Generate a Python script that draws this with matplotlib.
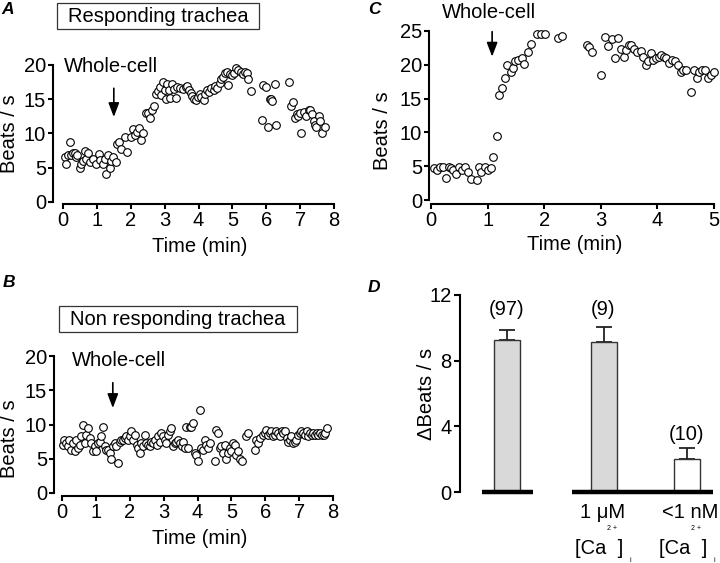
import numpy as np
import matplotlib.pyplot as plt
from matplotlib.patches import Rectangle

plt.rcParams['font.family'] = ['Liberation Sans', 'DejaVu Sans']

# panel A - responding trachea (time in min, beats/s)
a_t = [0.05, 0.10, 0.15, 0.20, 0.25, 0.30, 0.34, 0.38, 0.42, 0.49, 0.54, 0.59, 0.64, 0.69,
       0.74, 0.79, 0.90, 0.98, 1.05, 1.10, 1.18, 1.23, 1.28, 1.33, 1.38, 1.43, 1.48, 1.55,
       1.60, 1.66, 1.72, 1.82, 1.90, 2.02, 2.08, 2.12, 2.18, 2.24, 2.30, 2.36, 2.45, 2.52,
       2.58, 2.62, 2.68, 2.75, 2.80, 2.86, 2.90, 2.95, 3.00, 3.04, 3.08, 3.12, 3.17, 3.22,
       3.28, 3.34, 3.38, 3.45, 3.55, 3.62, 3.66, 3.72, 3.77, 3.82, 3.88, 3.93, 3.98, 4.03,
       4.08, 4.15, 4.20, 4.26, 4.32, 4.38, 4.45, 4.50, 4.56, 4.62, 4.66, 4.72, 4.78, 4.84,
       4.88, 4.93, 4.98, 5.05, 5.12, 5.18, 5.24, 5.30, 5.36, 5.42, 5.46, 5.56, 5.86, 5.90,
       6.00, 6.05, 6.10, 6.14, 6.18, 6.25, 6.30, 6.68, 6.74, 6.80, 6.85, 6.90, 6.95, 7.00,
       7.04, 7.10, 7.18, 7.26, 7.30, 7.36, 7.40, 7.44, 7.48, 7.55, 7.60, 7.65, 7.72]
a_v = [6.6, 5.5, 6.8, 8.8, 6.9, 7.1, 7.2, 6.6, 6.8, 4.9, 5.5, 6.0, 7.5, 6.3,
       7.2, 5.9, 6.3, 5.5, 7.0, 6.1, 5.5, 6.3, 4.1, 6.8, 4.9, 6.0, 6.6, 5.9,
       8.5, 8.8, 7.8, 9.5, 7.3, 9.5, 10.7, 9.8, 10.2, 10.8, 9.0, 10.0, 13.0, 13.0,
       12.2, 13.4, 14.0, 15.7, 16.2, 16.8, 15.6, 17.5, 16.3, 15.1, 17.2, 16.4, 15.2, 17.2,
       16.5, 15.2, 16.8, 16.6, 16.5, 16.8, 17.0, 16.3, 15.9, 15.5, 15.1, 14.9, 15.3, 15.7,
       15.4, 14.9, 15.8, 16.3, 16.0, 16.6, 16.3, 17.0, 16.6, 17.4, 17.9, 18.3, 18.8, 19.0,
       17.1, 18.7, 18.5, 18.8, 19.5, 19.3, 19.0, 18.7, 19.0, 18.8, 18.0, 16.2, 12.0, 17.1,
       16.8, 11.0, 15.0, 15.0, 14.8, 17.2, 11.2, 17.5, 14.0, 14.6, 12.2, 12.8, 12.6, 13.0,
       10.0, 13.2, 12.5, 13.4, 13.5, 12.8, 11.8, 11.2, 11.0, 12.6, 11.8, 10.1, 11.0]

# panel B - non responding trachea
b_t = [0.03, 0.07, 0.12, 0.17, 0.22, 0.27, 0.32, 0.37, 0.42, 0.47, 0.52, 0.57, 0.62, 0.67,
       0.72, 0.77, 0.82, 0.87, 0.91, 0.96, 1.01, 1.06, 1.11, 1.16, 1.21, 1.26, 1.31, 1.36,
       1.41, 1.46, 1.50, 1.55, 1.60, 1.65, 1.70, 1.75, 1.80, 1.85, 1.90, 1.95, 2.00, 2.05,
       2.10, 2.15, 2.20, 2.25, 2.29, 2.34, 2.39, 2.44, 2.49, 2.54, 2.59, 2.64, 2.69, 2.74,
       2.79, 2.84, 2.88, 2.93, 2.98, 3.03, 3.08, 3.13, 3.18, 3.23, 3.28, 3.33, 3.38, 3.43,
       3.48, 3.53, 3.58, 3.63, 3.67, 3.72, 3.77, 3.82, 3.87, 3.92, 3.97, 4.02, 4.06, 4.11,
       4.16, 4.21, 4.26, 4.31, 4.36, 4.51, 4.56, 4.61, 4.66, 4.70, 4.75, 4.80, 4.85, 4.90,
       4.95, 5.00, 5.05, 5.10, 5.15, 5.20, 5.25, 5.30, 5.44, 5.49, 5.69, 5.74, 5.79, 5.84,
       5.93, 5.98, 6.03, 6.08, 6.13, 6.18, 6.23, 6.28, 6.33, 6.38, 6.43, 6.48, 6.53, 6.58,
       6.63, 6.68, 6.72, 6.77, 6.82, 6.87, 6.92, 6.97, 7.02, 7.07, 7.12, 7.17, 7.22, 7.27,
       7.32, 7.37, 7.42, 7.47, 7.52, 7.57, 7.62, 7.67, 7.72, 7.77, 7.83]
b_v = [7.0, 7.8, 7.3, 6.8, 7.8, 6.3, 7.3, 6.1, 7.8, 6.6, 7.0, 8.3, 10.0, 7.3,
       8.5, 9.5, 8.0, 7.3, 6.1, 6.8, 6.1, 7.3, 7.5, 8.3, 9.7, 6.8, 6.3, 6.3,
       5.8, 4.9, 6.8, 7.3, 6.8, 4.4, 7.5, 7.8, 7.8, 8.0, 8.3, 7.8, 8.3, 9.0,
       7.8, 8.5, 7.0, 6.6, 5.8, 7.3, 6.8, 8.5, 7.3, 7.0, 6.8, 7.5, 7.3, 7.8,
       7.0, 8.3, 7.5, 8.7, 8.3, 7.8, 7.3, 8.5, 9.0, 9.5, 6.8, 7.3, 7.5, 7.8,
       7.3, 6.8, 7.5, 6.6, 9.7, 6.6, 9.7, 9.7, 10.2, 5.8, 5.6, 4.6, 12.1, 6.6,
       6.3, 7.8, 7.0, 6.6, 7.3, 4.6, 9.2, 8.7, 6.6, 6.8, 5.8, 7.0, 4.9, 5.8,
       6.6, 6.1, 7.3, 7.0, 5.6, 6.1, 4.9, 4.6, 8.3, 8.7, 6.3, 7.8, 7.3, 8.0,
       8.5, 8.7, 9.2, 8.5, 8.7, 9.0, 8.3, 8.5, 9.0, 8.7, 8.3, 9.0, 8.7, 9.0,
       8.0, 7.5, 7.8, 8.3, 7.3, 7.5, 7.8, 8.5, 8.7, 9.0, 8.7, 8.5, 9.0, 8.3,
       8.7, 8.5, 8.7, 8.5, 8.7, 8.5, 8.7, 8.5, 8.5, 8.7, 9.5]

# panel C - single cell
c_t = [0.05, 0.11, 0.16, 0.22, 0.26, 0.31, 0.35, 0.39, 0.45, 0.49, 0.54, 0.60, 0.66, 0.71,
       0.81, 0.85, 0.89, 0.95, 1.01, 1.06, 1.10, 1.16, 1.21, 1.26, 1.31, 1.35, 1.41, 1.45,
       1.49, 1.54, 1.60, 1.65, 1.71, 1.76, 1.88, 1.95, 2.01, 2.24, 2.31, 2.75, 2.79, 2.85,
       3.01, 3.07, 3.13, 3.20, 3.25, 3.31, 3.35, 3.41, 3.45, 3.50, 3.54, 3.59, 3.64, 3.71,
       3.75, 3.79, 3.84, 3.88, 3.92, 3.97, 4.02, 4.07, 4.11, 4.16, 4.21, 4.26, 4.31, 4.36,
       4.41, 4.45, 4.50, 4.60, 4.64, 4.70, 4.74, 4.78, 4.84, 4.89, 4.94, 5.00]
c_v = [4.7, 4.4, 4.9, 4.9, 3.2, 4.9, 4.7, 4.4, 3.9, 4.9, 4.4, 4.9, 4.2, 3.1,
       3.0, 4.9, 4.2, 4.9, 4.4, 4.8, 6.4, 9.4, 15.5, 16.5, 18.0, 20.0, 19.0, 19.5,
       20.5, 20.7, 21.0, 20.1, 21.9, 23.1, 24.5, 24.5, 24.5, 24.0, 24.2, 22.9, 22.6, 21.9,
       18.5, 24.1, 22.8, 23.8, 21.0, 24.0, 22.3, 21.2, 22.2, 22.9, 22.9, 22.3, 21.9, 22.1,
       21.2, 19.9, 20.6, 21.8, 20.7, 21.0, 21.2, 21.5, 21.2, 21.0, 20.2, 20.7, 20.5, 20.0,
       19.0, 19.2, 19.2, 16.0, 19.2, 18.0, 19.0, 19.2, 19.2, 18.0, 18.5, 19.0]

# panel D - mean change in beat frequency
bar_vals = [9.26, 9.14, 2.0]
bar_err = [0.6, 0.9, 0.66]
bar_n = ['(97)', '(9)', '(10)']
bar_colors = ['#d9d9d9', '#d9d9d9', 'white']

W, H = 720, 563
fig = plt.figure(figsize=(7.2, 5.63), dpi=100)


def rect(l, r, b, t):
    # pixel edges -> figure fraction rect
    return [l / W, 1 - b / H, (r - l) / W, (b - t) / H]


def ftext(x, y, s, **kw):
    fig.text(x / W, 1 - y / H, s, **kw)


def style(ax, left_off, bottom_off, bottom=True):
    ax.patch.set_visible(False)
    ax.spines['top'].set_visible(False)
    ax.spines['right'].set_visible(False)
    ax.spines['left'].set_position(('outward', left_off * 0.72))
    ax.spines['left'].set_linewidth(1.5)
    if bottom:
        ax.spines['bottom'].set_position(('outward', bottom_off * 0.72))
        ax.spines['bottom'].set_linewidth(1.5)
    else:
        ax.spines['bottom'].set_visible(False)
    ax.tick_params(width=1.5, length=3.5, labelsize=14.5, pad=1.5)


def trace(r, t, v, xmax, ymax, ystep, left_off, bottom_off):
    ax = fig.add_axes(r)
    ax.plot(t, v, 'o', ms=5.5, mfc='white', mec='black', mew=0.8, clip_on=False)
    ax.set_xlim(0, xmax)
    ax.set_ylim(0, ymax)
    ax.set_xticks(range(0, xmax + 1))
    ax.set_yticks(range(0, ymax + 1, ystep))
    style(ax, left_off, bottom_off)
    return ax


def arrow(ax, x, y0, y1):
    ax.annotate('', xy=(x, y1), xytext=(x, y0),
                arrowprops=dict(arrowstyle='-|>,head_length=0.5,head_width=0.19',
                                color='black', lw=1.2, mutation_scale=17, shrinkA=0, shrinkB=0))


ax_a = trace(rect(63, 334, 202, 65), a_t, a_v, 8, 20, 5, 10, 2)
arrow(ax_a, 1.5, 16.6, 12.4)
ax_b = trace(rect(62, 333, 493, 356), b_t, b_v, 8, 20, 5, 8, 3)
arrow(ax_b, 1.5, 16.1, 12.4)
ax_c = trace(rect(431, 714, 200, 31), c_t, c_v, 5, 25, 5, 2, 4)
arrow(ax_c, 1.08, 24.9, 21.2)

# bar panel
ax_d = fig.add_axes(rect(460, 715, 492, 295))
pos = [0.94, 2.87, 4.54]
ax_d.bar(pos, bar_vals, width=0.52, color=bar_colors, edgecolor='#333333', lw=1.0, zorder=2)
ax_d.errorbar(pos, bar_vals, yerr=[[0, 0, 0], bar_err], fmt='none', ecolor='#222222',
              elinewidth=1.3, capsize=6, capthick=1.3, zorder=1)
ax_d.plot([0.44, 1.46], [0, 0], color='black', lw=3.2, solid_capstyle='butt', clip_on=False, zorder=3)
ax_d.plot([2.24, 5.06], [0, 0], color='black', lw=3.2, solid_capstyle='butt', clip_on=False, zorder=3)
for p, lab, ly in zip(pos, bar_n, [11.1, 11.1, 3.5]):
    ax_d.text(p, ly, lab, ha='center', va='center', fontsize=14.5)
ax_d.set_xlim(0, 5.1)
ax_d.set_ylim(0, 12)
ax_d.set_xticks([])
ax_d.set_yticks([0, 4, 8, 12])
style(ax_d, 0, 0, bottom=False)
ax_d.tick_params(length=4.5)

# axis labels
for x, y in [(10, 134), (383, 131), (10, 439)]:
    ftext(x, y, 'Beats / s', rotation=90, ha='center', va='center', fontsize=14.5)
ftext(427, 394, '\u0394Beats / s', rotation=90, ha='center', va='center', fontsize=14.5)
for x, y in [(200, 247), (200, 538), (575, 244)]:
    ftext(x, y, 'Time (min)', ha='center', va='center', fontsize=14.5)

# annotations
ftext(64, 67, 'Whole-cell', ha='left', va='center', fontsize=14.5)
ftext(72, 360, 'Whole-cell', ha='left', va='center', fontsize=14.5)
ftext(442, 13, 'Whole-cell', ha='left', va='center', fontsize=14.5)

# boxed titles
for l, r, t, b, s in [(57, 259, 3, 29, 'Responding trachea'),
                      (59, 297, 306, 332, 'Non responding trachea')]:
    fig.patches.append(Rectangle((l / W, 1 - b / H), (r - l) / W, (b - t) / H,
                                 transform=fig.transFigure, fill=False, ec='#333333', lw=0.9))
    ftext((l + r) / 2, (t + b) / 2 + 0.5, s, ha='center', va='center', fontsize=14.5)

# panel letters
for x, y, s in [(8, 10, 'A'), (9, 283, 'B'), (374, 10, 'C'), (374, 287, 'D')]:
    ftext(x, y, s, ha='center', va='center', fontsize=12.5, fontweight='bold', fontstyle='italic')

# category labels
ftext(603, 513, '1 \u03bcM', ha='center', va='center', fontsize=14.5)
ftext(690, 513, '<1 nM', ha='center', va='center', fontsize=14.5)
for x0 in [575, 659]:
    ftext(x0, 548, '[Ca  ]', ha='left', va='center', fontsize=14.5)
    ftext(x0 + 37, 528, '2 +', ha='center', va='center', fontsize=5)
    ftext(x0 + 55, 560, 'i', ha='center', va='center', fontsize=5)

fig.savefig('out.png', dpi=100)
